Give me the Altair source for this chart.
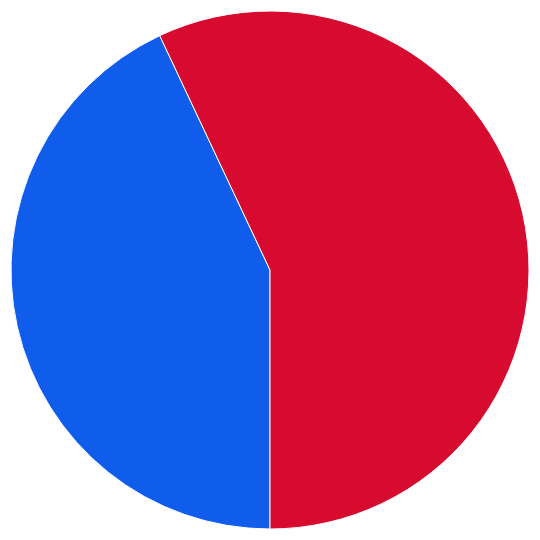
import math
import altair as alt
import pandas as pd

categories = ["Blue", "Red"]
values = [43.0, 57.0]
colors = ["#105ceb", "#d60b2f"]

df = pd.DataFrame({"category": categories, "value": values, "order": [0, 1]})

chart = alt.Chart(df).mark_arc(outerRadius=259, stroke="white", strokeWidth=1).encode(
    theta=alt.Theta("value:Q", stack=True, scale=alt.Scale(range=[math.pi, 3 * math.pi])),
    color=alt.Color("category:N", scale=alt.Scale(domain=categories, range=colors), legend=None),
    order=alt.Order("order:Q"),
).properties(width=524, height=524, padding=0).configure_view(stroke=None)

chart.save("out.html", embed_options={"renderer": "svg", "actions": False})
